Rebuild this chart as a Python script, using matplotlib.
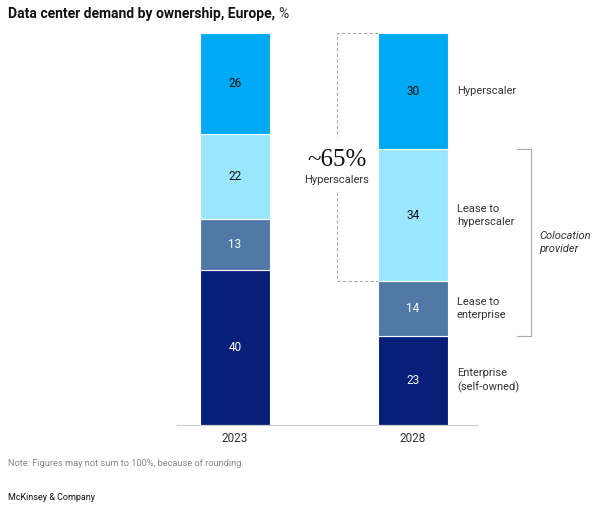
import matplotlib
matplotlib.use("Agg")
from matplotlib import pyplot as plt

plt.rcParams['font.family'] = ['Roboto', 'DejaVu Sans']

years = ['2023', '2028']
segments = ['Enterprise\n(self-owned)', 'Lease to\nenterprise', 'Lease to\nhyperscaler', 'Hyperscaler']
enterprise = [40, 23]
lease_enterprise = [13, 14]
lease_hyperscaler = [22, 34]
hyperscaler = [26, 30]

colors = ['#061f78', '#5079a8', '#9be6ff', '#00a9f4']
text_colors = ['white', 'white', '#111111', '#111111']

fig = plt.figure(figsize=(6, 5.08), dpi=100)
ax = fig.add_axes([177 / 600, 83 / 508, 300 / 600, 392 / 508])

w = 0.393
x = [0, 1]
series = [enterprise, lease_enterprise, lease_hyperscaler, hyperscaler]
bottom = [0, 0]
for vals, col, tcol in zip(series, colors, text_colors):
    ax.bar(x, vals, w, bottom=bottom, color=col, edgecolor='white', linewidth=0.8)
    for i in range(2):
        ax.text(x[i], bottom[i] + vals[i] / 2, str(vals[i]), ha='center', va='center',
                fontsize=8.5, color=tcol)
    bottom = [b + v for b, v in zip(bottom, vals)]

ax.set_xlim(-0.326, 1.36)
ax.set_ylim(0, 101)
for s in ['top', 'right', 'left']:
    ax.spines[s].set_visible(False)
ax.spines['bottom'].set_color('#cccccc')
ax.spines['bottom'].set_linewidth(0.8)
ax.set_yticks([])
ax.set_xticks(x)
ax.set_xticklabels(years, fontsize=8.5, color='#333333')
ax.tick_params(axis='x', length=0, pad=5)

# segment labels to the right of 2028 bar
cum = 0
for name, vals in zip(segments, series):
    ax.text(1.247, cum + vals[1] / 2, name, ha='left', va='center', fontsize=8,
            color='#333333', linespacing=1.35)
    cum += vals[1]

# dashed bracket for ~65% hyperscalers
top = sum(v[1] for v in series)
low = enterprise[1] + lease_enterprise[1]
xl = 0.573
xb = 1 - w / 2
dash = dict(color='#aaaaaa', linewidth=0.8, linestyle=(0, (3, 2)), clip_on=False)
ax.plot([xb, xl, xl], [top, top, 74.2], **dash)
ax.plot([xl, xl, xb], [60, low, low], **dash)
ax.text(xl, 68.3, '~65%', ha='center', va='center', fontsize=18,
        family=['Liberation Serif', 'DejaVu Serif'], color='#111111')
ax.text(xl, 63.2, 'Hyperscalers', ha='center', va='center', fontsize=8, color='#333333')

# colocation provider bracket
b_lo = enterprise[1]
b_hi = enterprise[1] + lease_enterprise[1] + lease_hyperscaler[1]
ax.plot([1.584, 1.663, 1.663, 1.584], [b_hi, b_hi, b_lo, b_lo], color='#aaaaaa',
        linewidth=0.8, clip_on=False)
ax.text(1.708, (b_lo + b_hi) / 2, 'Colocation\nprovider', ha='left', va='center',
        fontsize=8, style='italic', color='#333333', linespacing=1.35)

# title
t = fig.text(8 / 600, 1 - 14 / 508, 'Data center demand by ownership, Europe, ', fontsize=10,
             fontweight='bold', va='center', color='#111111')
fig.canvas.draw()
bb = t.get_window_extent()
fig.text(bb.x1 / 600, 1 - 14 / 508, '%', fontsize=10, va='center', color='#333333')

fig.text(8 / 600, 1 - 463 / 508, 'Note: Figures may not sum to 100%, because of rounding.',
         fontsize=6.7, color='#888888', va='center')
fig.text(8 / 600, 1 - 498 / 508, 'McKinsey & Company', fontsize=6.5, color='#111111', va='center')

fig.savefig('out.png', dpi=100)
